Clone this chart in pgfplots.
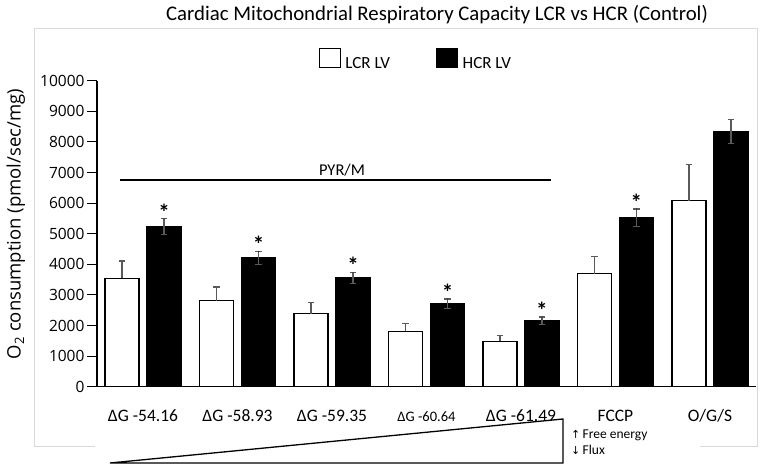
\documentclass[border=0pt]{standalone}
\usepackage{fontspec}
\setmainfont{Carlito}
\newfontfamily\osans{Open Sans}
\newfontfamily\dejavu{DejaVu Sans}
\usepackage{pgfplots}
\usepackage{pgfplotstable}
\pgfplotsset{compat=1.18}
\definecolor{errcol}{HTML}{5A5A5A}
\definecolor{framecol}{HTML}{D9D9D9}

% x: group position + offset; y: mean; e: error
\pgfplotstableread{
x       y     e
-0.222  3540  570
0.778   2810  450
1.778   2390  360
2.778   1810  260
3.778   1485  200
4.778   3690  555
5.778   6080  1175
}\lcr
\pgfplotstableread{
x       y     e
0.222   5230  260
1.222   4205  220
2.222   3550  185
3.222   2705  160
4.222   2150  130
5.222   5525  280
6.222   8335  400
}\hcr
% significance stars (at top of HCR error bar)
\pgfplotstableread{
x       y
0.222   5490
1.222   4425
2.222   3735
3.222   2865
4.222   2280
5.222   5805
}\stars

\pgfplotsset{boxlegend/.style={legend image code/.code={\draw[##1,line width=1.2pt] (0pt,-4pt) rectangle (21pt,15pt);\path[draw=none,fill=none] (0pt,0pt) -- (24pt,0pt);}}}

\begin{document}
\begin{tikzpicture}
\begin{axis}[
  scale only axis,
  width=659pt, height=306pt,
  xmin=-0.487, xmax=6.487,
  ymin=0, ymax=10000,
  enlargelimits=false,
  clip=false,
  axis x line*=bottom,
  axis y line*=left,
  axis line style={-, line width=1.2pt, black},
  xtick={0,1,2,3,4,5,6},
  xticklabels={ΔG -54.16, ΔG -58.93, ΔG -59.35, {\fontsize{14.5}{14.5}\selectfont ΔG -60.64}, ΔG -61.49, FCCP, O/G/S},
  xtick style={draw=none},
  xticklabel style={font=\fontsize{17.5}{17.5}\selectfont, anchor=base, yshift=-25pt},
  ytick={0,1000,...,10000},
  scaled y ticks=false,
  /pgf/number format/.cd, fixed, 1000 sep={}, assume math mode=true,
  /pgfplots/.cd,
  tick align=outside,
  major tick length=10pt,
  ytick style={line width=1pt, black},
  yticklabel style={font=\osans\fontsize{15.5}{15.5}\selectfont, xshift=1pt},
  ylabel={O\textsubscript{2} consumption (pmol/sec/mg)},
  ylabel style={font=\osans\fontsize{18.5}{18.5}\selectfont, at={(axis description cs:-0.1158,0.5317)}, anchor=base},
  bar width=0.36,
  legend style={at={(0.484,1.069)}, anchor=center, draw=none, fill=none,
    font=\fontsize{17}{17}\selectfont, legend columns=2,
    /tikz/every even column/.append style={column sep=44pt}},
]
\addplot[ybar, bar shift=0pt, fill=white, draw=black, line width=1.3pt, boxlegend,
  error bars/.cd, y dir=plus, y explicit,
  error bar style={errcol, line width=1.2pt},
  error mark options={errcol, line width=1.2pt, mark size=3.3pt, rotate=90}]
  table[x=x, y=y, y error=e] {\lcr};
\addlegendentry{LCR LV}
\addplot[ybar, bar shift=0pt, fill=black, draw=black, line width=1.3pt, boxlegend,
  error bars/.cd, y dir=both, y explicit,
  error bar style={errcol, line width=1.2pt},
  error mark options={errcol, line width=1.2pt, mark size=3.3pt, rotate=90}]
  table[x=x, y=y, y error=e] {\hcr};
\addlegendentry{HCR LV}
\addplot[forget plot, only marks, mark=*, mark size=0.1pt, mark options={draw=none, fill=none},
  nodes near coords={\bfseries *},
  every node near coord/.append style={anchor=base, yshift=-1.5pt, font=\fontsize{23}{23}\selectfont, text=black}]
  table[x=x, y=y] {\stars};
\end{axis}

\begin{scope}[shift={(-97pt,386.7pt)}, x=1pt, y=-1pt]
  % outer frame
  \draw[framecol, line width=1pt] (95,447) -- (35,447) -- (35,29) -- (757,29) -- (757,447) -- (700,447);
  % title
  \node[anchor=base, inner sep=0pt, font=\fontsize{20.8}{20.8}\selectfont] at (437,21) {Cardiac Mitochondrial Respiratory Capacity LCR vs HCR (Control)};
  % PYR/M bracket line
  \draw[line width=1.2pt] (120,180) -- (551,180);
  \node[anchor=base, inner sep=0pt, font=\fontsize{16.5}{16.5}\selectfont] at (342,176) {PYR/M};
  % gradient triangle
  \draw[line width=1.3pt, line join=miter] (110,463) -- (563,419) -- (563,463) -- cycle;
  \node[anchor=base west, inner sep=0pt, font=\fontsize{13.5}{13.5}\selectfont] at (571,438.3) {{\dejavu\fontsize{11}{11}\selectfont ↑}\,Free energy};
  \node[anchor=base west, inner sep=0pt, font=\fontsize{13.5}{13.5}\selectfont] at (571,454.3) {{\dejavu\fontsize{11}{11}\selectfont ↓}\,Flux};
\end{scope}

\pgfresetboundingbox
\begin{scope}[shift={(-97pt,386.7pt)}, x=1pt, y=-1pt]
  \path[use as bounding box] (0,0) rectangle (765,470);
\end{scope}
\end{tikzpicture}
\end{document}
